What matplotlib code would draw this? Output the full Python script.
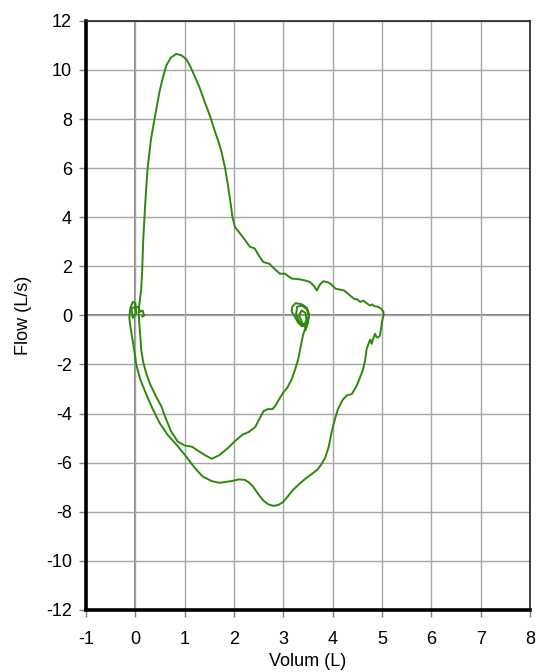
import matplotlib
matplotlib.use("Agg")
import matplotlib.pyplot as plt

# Flow-volume loop, traced in drawing order
volume = [3.45, 3.5, 3.52, 3.48, 3.38, 3.25, 3.18, 3.17, 3.22, 3.3, 3.38, 3.47, 3.52, 3.48, 3.38, 3.28,
          3.26, 3.32, 3.42, 3.47, 3.45, 3.37, 3.32, 3.38, 3.45,
          3.4, 3.35, 3.3, 3.24, 3.17, 3.08, 3.0, 2.92, 2.85, 2.78, 2.68, 2.6, 2.52, 2.43, 2.3, 2.18,
          2.02, 1.88, 1.7, 1.55, 1.42, 1.3, 1.15, 1.0, 0.86, 0.72, 0.6, 0.53, 0.42, 0.3, 0.22, 0.16,
          0.12, 0.1, 0.08, 0.07, 0.08, 0.12, 0.14, 0.16, 0.2, 0.25, 0.32, 0.39, 0.49, 0.56, 0.63, 0.72,
          0.83, 0.93, 1.03, 1.1, 1.17, 1.3, 1.41, 1.52, 1.62, 1.7, 1.75, 1.82, 1.88, 1.93, 1.97, 2.02,
          2.1, 2.15, 2.25, 2.32, 2.42, 2.5, 2.59, 2.72, 2.82, 2.93, 3.03, 3.1, 3.17, 3.33, 3.45, 3.54,
          3.62, 3.68, 3.74, 3.81, 3.9, 3.95, 4.06, 4.15, 4.23, 4.33, 4.43, 4.5, 4.56, 4.62, 4.7, 4.76,
          4.8, 4.84, 4.92, 4.98, 5.03, 5.03, 5.0, 4.98, 4.96, 4.92, 4.89, 4.86, 4.82, 4.79, 4.76, 4.72,
          4.69, 4.66, 4.62, 4.56, 4.49, 4.42, 4.39, 4.28, 4.2, 4.11, 4.05, 3.98, 3.92, 3.85, 3.76, 3.69,
          3.55, 3.45, 3.35, 3.2, 3.08, 3.0, 2.9, 2.8, 2.7, 2.6, 2.5, 2.39, 2.3, 2.22, 2.1, 1.95, 1.71,
          1.55, 1.37, 1.2, 1.0, 0.85, 0.65, 0.49, 0.35, 0.22, 0.1, 0.02, -0.03, -0.07, -0.1, -0.12,
          -0.1, -0.05, 0.0, 0.02, -0.05, -0.08, 0.05, 0.1, 0.15, 0.17, 0.14, 0.18]
flow = [-0.6, -0.3, 0.05, 0.3, 0.45, 0.5, 0.35, 0.15, 0.0, -0.3, -0.45, -0.35, -0.05, 0.25, 0.4, 0.35,
        0.05, -0.25, -0.4, -0.2, 0.1, 0.2, 0.0, -0.3, -0.5,
        -0.8, -1.3, -1.8, -2.2, -2.6, -2.95, -3.14, -3.4, -3.65, -3.82, -3.82, -3.9, -4.2, -4.55, -4.75, -4.85,
        -5.12, -5.4, -5.7, -5.84, -5.7, -5.55, -5.35, -5.3, -5.14, -4.7, -4.1, -3.71, -3.3, -2.8, -2.35, -1.9,
        -1.4, -0.8, -0.3, 0.1, 0.4, 1.07, 1.8, 3.0, 4.5, 6.0, 7.2, 8.0, 9.1, 9.7, 10.18, 10.5,
        10.65, 10.6, 10.45, 10.2, 9.9, 9.3, 8.68, 8.1, 7.46, 7.0, 6.64, 6.0, 5.28, 4.6, 4.0, 3.6,
        3.4, 3.27, 3.0, 2.8, 2.73, 2.45, 2.18, 2.1, 1.9, 1.7, 1.7, 1.6, 1.5, 1.47, 1.42, 1.36,
        1.2, 1.02, 1.25, 1.39, 1.35, 1.3, 1.09, 1.05, 1.02, 0.85, 0.68, 0.65, 0.55, 0.6, 0.48, 0.4,
        0.45, 0.38, 0.35, 0.28, 0.15, 0.0, -0.27, -0.55, -0.82, -0.9, -0.89, -0.75, -0.95, -1.16, -0.98, -1.2,
        -1.36, -1.8, -2.18, -2.5, -2.86, -3.1, -3.2, -3.27, -3.45, -3.81, -4.2, -4.75, -5.35, -5.8, -6.1, -6.29,
        -6.5, -6.65, -6.82, -7.1, -7.4, -7.6, -7.72, -7.76, -7.7, -7.55, -7.3, -6.98, -6.8, -6.7, -6.68, -6.75, -6.82,
        -6.75, -6.57, -6.2, -5.67, -5.3, -4.85, -4.37, -3.8, -3.2, -2.6, -2.0, -1.3, -0.8, -0.45, -0.1,
        0.3, 0.55, 0.5, 0.1, -0.1, 0.3, 0.35, 0.15, 0.2, 0.05, -0.05, 0.0]

x_ticks = [-1, 0, 1, 2, 3, 4, 5, 6, 7, 8]
y_ticks = [-12, -10, -8, -6, -4, -2, 0, 2, 4, 6, 8, 10, 12]

plt.rcParams['font.family'] = ['Liberation Sans', 'DejaVu Sans']

fig = plt.figure(figsize=(5.37, 6.72), dpi=100)
ax = fig.add_axes([0.160, 0.0923, 0.827, 0.8767])

ax.set_xlim(-1, 8)
ax.set_ylim(-12, 12)
ax.set_xticks(x_ticks)
ax.set_yticks(y_ticks)
ax.set_xticklabels([str(v) for v in x_ticks])
ax.set_yticklabels([str(v) for v in y_ticks])

ax.grid(True, color='#a6a6a6', linewidth=1.0, zorder=0)
ax.axvline(0, color='#808080', linewidth=1.4, zorder=1)
ax.axhline(0, color='#808080', linewidth=1.4, zorder=1)

ax.plot(volume, flow, color='#2b8a0c', linewidth=1.4, zorder=3, solid_joinstyle='round')

for side in ['left', 'bottom']:
    ax.spines[side].set_linewidth(2.6)
    ax.spines[side].set_color('black')
for side in ['top', 'right']:
    ax.spines[side].set_linewidth(1.2)
    ax.spines[side].set_color('#222222')

ax.tick_params(axis='both', direction='out', length=5, width=1, color='#808080',
               labelsize=13, labelcolor='black')
ax.tick_params(axis='x', pad=10)
ax.tick_params(axis='y', pad=5)
ax.set_xlabel('Volum (L)', fontsize=13, labelpad=4)
ax.set_ylabel('Flow (L/s)', fontsize=13, labelpad=10)

fig.savefig('out.png', dpi=100)
